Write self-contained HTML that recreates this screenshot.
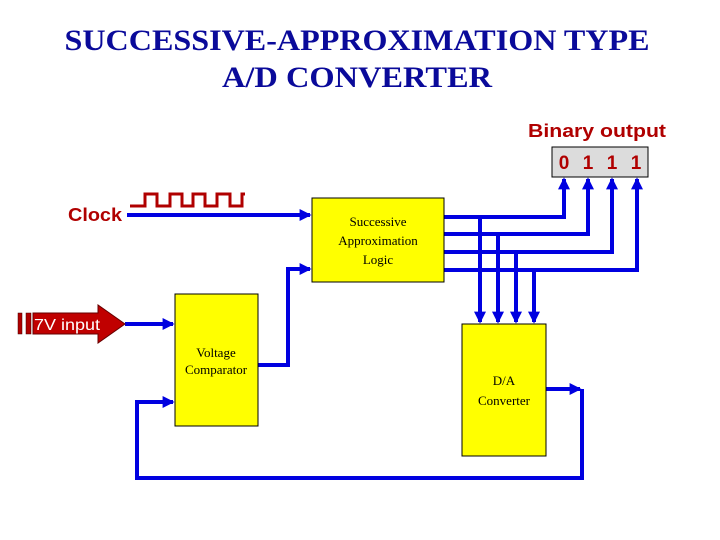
<!DOCTYPE html>
<html><head><meta charset="utf-8"><style>body{margin:0;background:#fff}svg{display:block}</style></head><body>
<svg width="720" height="540" xmlns="http://www.w3.org/2000/svg">
<defs>
<marker id="a" markerWidth="3" markerHeight="3" refX="2.6" refY="1.5" orient="auto" markerUnits="strokeWidth"><path d="M0,0 L3,1.5 L0,3 z" fill="#0000e0"/></marker>
</defs>
<text x="357" y="50" font-family="Liberation Serif" font-weight="bold" font-size="30" fill="#0a0a9a" text-anchor="middle" textLength="585" lengthAdjust="spacingAndGlyphs">SUCCESSIVE-APPROXIMATION TYPE</text>
<text x="357" y="87" font-family="Liberation Serif" font-weight="bold" font-size="30" fill="#0a0a9a" text-anchor="middle" textLength="270" lengthAdjust="spacingAndGlyphs">A/D CONVERTER</text>
<text x="528" y="137" font-family="Liberation Sans" font-weight="bold" font-size="18" fill="#b00000" textLength="138" lengthAdjust="spacingAndGlyphs">Binary output</text>
<rect x="552" y="147" width="96" height="30" fill="#dcdcdc" stroke="#000" stroke-width="1"/>
<g font-family="Liberation Sans" font-weight="bold" font-size="19" fill="#b00000" text-anchor="middle">
<text x="564" y="169">0</text><text x="588" y="169">1</text><text x="612" y="169">1</text><text x="636" y="169">1</text>
</g>
<text x="68" y="221" font-family="Liberation Sans" font-weight="bold" font-size="18" fill="#b00000" textLength="54" lengthAdjust="spacingAndGlyphs">Clock</text>
<polyline points="130,206 145,206 145,194 157,194 157,206 170,206 170,194 182,194 182,206 193,206 193,194 205,194 205,206 217,206 217,194 230,194 230,206 242,206 242,194 245,194" fill="none" stroke="#b00000" stroke-width="3"/>
<g stroke="#0000e0" stroke-width="4" fill="none">
<line x1="127" y1="215" x2="310" y2="215" marker-end="url(#a)"/>
<polyline points="258,365 288,365 288,269 310,269" marker-end="url(#a)"/>
<line x1="125" y1="324" x2="173" y2="324" marker-end="url(#a)"/>
<polyline points="444,217 564,217 564,179" marker-end="url(#a)"/>
<polyline points="444,234 588,234 588,179" marker-end="url(#a)"/>
<polyline points="444,252 612,252 612,179" marker-end="url(#a)"/>
<polyline points="444,270 637,270 637,179" marker-end="url(#a)"/>
<line x1="480" y1="217" x2="480" y2="322" marker-end="url(#a)"/>
<line x1="498" y1="234" x2="498" y2="322" marker-end="url(#a)"/>
<line x1="516" y1="252" x2="516" y2="322" marker-end="url(#a)"/>
<line x1="534" y1="270" x2="534" y2="322" marker-end="url(#a)"/>
<line x1="546" y1="389" x2="580" y2="389" marker-end="url(#a)"/>
<polyline points="582,389 582,478 137,478 137,402 173,402" marker-end="url(#a)"/>
</g>
<rect x="312" y="198" width="132" height="84" fill="#ffff00" stroke="#000" stroke-width="1"/>
<rect x="175" y="294" width="83" height="132" fill="#ffff00" stroke="#000" stroke-width="1"/>
<rect x="462" y="324" width="84" height="132" fill="#ffff00" stroke="#000" stroke-width="1"/>
<g font-family="Liberation Serif" font-size="13" fill="#000" text-anchor="middle">
<text x="378" y="226">Successive</text>
<text x="378" y="245">Approximation</text>
<text x="378" y="264">Logic</text>
<text x="216" y="357">Voltage</text>
<text x="216" y="374">Comparator</text>
<text x="504" y="385">D/A</text>
<text x="504" y="405">Converter</text>
</g>
<rect x="18" y="313" width="4" height="21" fill="#b00000" stroke="#400" stroke-width="0.5"/>
<rect x="26" y="313" width="5" height="21" fill="#b00000" stroke="#400" stroke-width="0.5"/>
<polygon points="33,313 98,313 98,305 125,324 98,343 98,334 33,334" fill="#c00000" stroke="#600" stroke-width="1"/>
<text x="34" y="330" font-family="Liberation Sans" font-size="16" fill="#fff" textLength="66" lengthAdjust="spacingAndGlyphs">7V input</text>
</svg>
</body></html>
